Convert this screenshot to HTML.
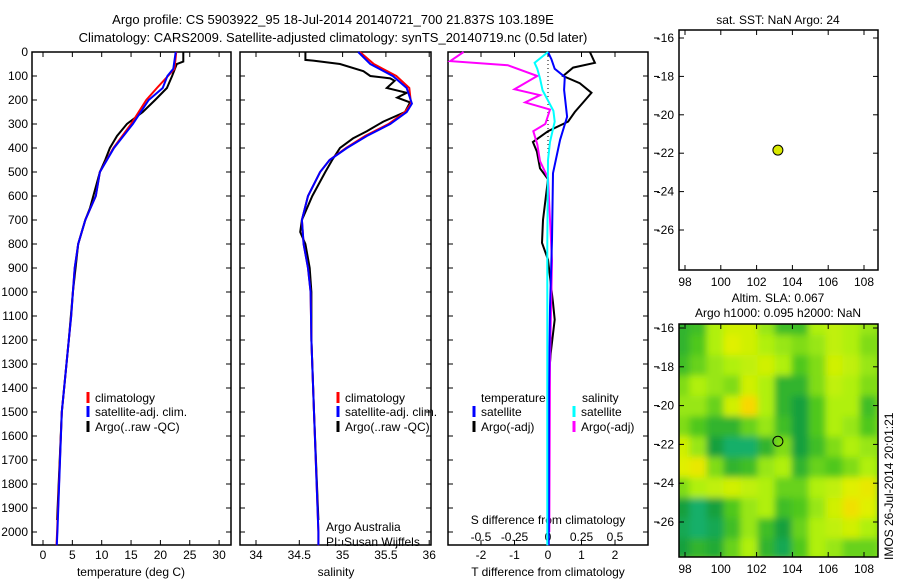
<!DOCTYPE html>
<html><head><meta charset="utf-8">
<style>
html,body{margin:0;padding:0;background:#fff;}
svg{display:block;font-family:"Liberation Sans",sans-serif;}
text{font-size:12px;fill:#000;}
</style></head>
<body>
<svg id="s" width="900" height="580" viewBox="0 0 900 580" xmlns="http://www.w3.org/2000/svg">
<defs><filter id="blur" x="0" y="0" width="1" height="1"><feGaussianBlur stdDeviation="3.5"/></filter>
<clipPath id="mapclip"><rect x="679" y="324" width="199" height="233"/></clipPath></defs>
<text x="333" y="24" text-anchor="middle" style="font-size:13px">Argo profile: CS 5903922_95 18-Jul-2014 20140721_700 21.837S 103.189E</text>
<text x="333" y="42" text-anchor="middle" style="font-size:13px">Climatology: CARS2009. Satellite-adjusted climatology: synTS_20140719.nc (0.5d later)</text>
<text x="778" y="24" text-anchor="middle">sat. SST: NaN Argo: 24</text>
<text x="778" y="302" text-anchor="middle">Altim. SLA: 0.067</text>
<text x="778" y="317" text-anchor="middle">Argo h1000: 0.095 h2000: NaN</text>
<text transform="translate(893,560) rotate(-90)">IMOS 26-Jul-2014 20:01:21</text>
<g id="g"></g>
</svg>
<script>
// ---- profile data ----
const depthTicks=[0,100,200,300,400,500,600,700,800,900,1000,1100,1200,1300,1400,1500,1600,1700,1800,1900,2000];
const tempTicks=[0,5,10,15,20,25,30];
const salTicks=[34,34.5,35,35.5,36];
const salTickLabels=["34","34.5","35","35.5","36"];
const tdTicks=[-2,-1,0,1,2];
const sdTickLabels=["-0.5","-0.25","0","0.25","0.5"];

const climTDepth=[0,70,100,150,200,300,400,500,600,700,800,900,1000,1100,1200,1500,2000,2055];
const climTRed=[22.7,22.4,21.3,19.4,17.6,15.0,12.0,9.7,9.0,7.2,6.0,5.4,5.1,4.8,4.4,3.2,2.4,2.3];
const climTBlue=[22.6,22.2,21.2,20.4,18.0,15.3,12.1,9.7,9.0,7.2,6.0,5.4,5.1,4.8,4.4,3.2,2.45,2.35];
const argoTDepth=[0,40,50,100,150,200,250,300,350,400,450,500,650,700,800,1000,1200,1500,1950];
const argoT=[23.9,23.9,22.8,22.0,21.1,19.1,17.0,14.3,12.6,11.4,10.6,9.7,8.0,7.2,6.0,5.1,4.4,3.2,2.4];

const climSDepth=[0,50,100,150,215,250,300,350,400,450,500,600,700,800,900,1000,1200,1500,2000,2055];
const climSBlue=[35.18,35.32,35.58,35.74,35.8,35.74,35.55,35.28,35.05,34.85,34.74,34.6,34.53,34.55,34.6,34.63,34.64,34.67,34.72,34.72];
const climSRed=[35.2,35.36,35.62,35.77,35.79,35.72,35.53,35.26,35.04,34.85,34.74,34.6,34.53,34.55,34.6,34.63,34.64,34.67,34.72,34.72];
const argoSDepth=[0,33,36,50,80,100,110,120,150,170,190,210,250,290,330,360,400,450,500,600,700,750,800,900,1000,1200,1500,1950];
const argoS=[34.57,34.57,34.66,34.97,35.24,35.32,35.55,35.6,35.51,35.74,35.63,35.78,35.72,35.47,35.28,35.12,34.97,34.88,34.8,34.65,34.53,34.51,34.57,34.62,34.64,34.64,34.67,34.72];

const tdSatDepth=[0,30,70,104,158,270,366,505,783,1062,1400,2055];
const tdSat=[0,0.1,0.2,0.5,0.48,0.57,0.36,0.15,0.12,0.06,0.03,0.02];
const tdArgoDepth=[0,45,65,100,130,170,210,250,290,330,375,415,485,530,700,795,865,1045,1115,1255,1310];
const tdArgo=[1.25,1.4,0.75,0.45,0.95,1.3,1.05,0.8,0.6,0,-0.45,-0.33,-0.24,0,-0.15,-0.18,0,0.15,0.2,0.08,0.05];
const sdSatDepth=[0,45,70,110,160,245,290,375,450,800,2055];
const sdSat=[0,-0.1,-0.08,-0.06,-0.04,0.04,0.05,0.015,0,-0.005,-0.005];
const sdArgoDepth=[0,38,55,100,155,180,210,240,300,330,385,455,525,870,1300,2000];
const sdArgo=[-0.63,-0.73,-0.3,-0.08,-0.25,-0.06,-0.17,0.015,-0.02,-0.11,-0.08,-0.06,0,0.03,0.015,0.01];

// ---- map data ----
const latTicks=[-16,-18,-20,-22,-24,-26];
const lonTicks=[98,100,102,104,106,108];
const floatLon=103.19, floatLat=-21.84;
const slaGrid=[
[0.3,0.35,0.6,0.7,0.7,0.55,0.35,0.35,0.6,0.65,0.6,0.55],
[0.3,0.4,0.6,0.75,0.7,0.6,0.55,0.5,0.55,0.65,0.6,0.5],
[0.35,0.45,0.55,0.6,0.65,0.7,0.6,0.4,0.5,0.7,0.65,0.55],
[0.5,0.6,0.55,0.5,0.7,0.6,0.3,0.3,0.5,0.65,0.6,0.5],
[0.55,0.55,0.45,0.7,0.9,0.6,0.3,0.2,0.4,0.6,0.6,0.35],
[0.5,0.4,0.3,0.3,0.45,0.55,0.35,0.2,0.4,0.6,0.55,0.4],
[0.7,0.55,0.2,0.1,0.1,0.3,0.5,0.2,0.35,0.5,0.6,0.55],
[0.75,0.8,0.5,0.3,0.35,0.55,0.6,0.3,0.45,0.4,0.5,0.6],
[0.5,0.6,0.65,0.7,0.65,0.6,0.45,0.45,0.6,0.65,0.75,0.8],
[0.2,0.1,0.2,0.4,0.55,0.6,0.35,0.4,0.55,0.7,0.85,0.75],
[0.15,0.1,0.15,0.35,0.55,0.35,0.2,0.45,0.6,0.65,0.7,0.6],
[0.2,0.3,0.25,0.45,0.6,0.3,0.15,0.4,0.6,0.55,0.45,0.45]];

const NS="http://www.w3.org/2000/svg";
const G=document.getElementById('g');
function mk(tag,at,parent){const e=document.createElementNS(NS,tag);for(const k in at)e.setAttribute(k,at[k]);(parent||G).appendChild(e);return e;}
function txt(x,y,s,anchor){const t=mk('text',{x:x,y:y,'text-anchor':anchor||'start'});t.textContent=s;return t;}

const PT=52,PB=545;
const yD=d=>52+d*0.24;
const xT=v=>43+v*5.87;
const xS=v=>256+(v-34)*86.6;
const xTD=v=>548+v*33.5;
const xSD=v=>548+v*134;
const panels=[{x0:32,x1:231,n:'temperature-panel'},{x0:240,x1:431,n:'salinity-panel'},{x0:448,x1:648,n:'difference-panel'}];

panels.forEach(p=>{
  const r=mk('rect',{x:p.x0,y:PT,width:p.x1-p.x0,height:PB-PT,fill:'none',stroke:'#000','stroke-width':1.5});
  
  
  depthTicks.forEach(d=>{
    mk('line',{x1:p.x0,x2:p.x0+5,y1:yD(d),y2:yD(d),stroke:'#000'});
    mk('line',{x1:p.x1-5,x2:p.x1,y1:yD(d),y2:yD(d),stroke:'#000'});
  });
});
depthTicks.forEach(d=>{const t=txt(28,yD(d)+4,String(d),'end');
  
  });

function xaxis(ticks,labels,fx,y,top,bottom){
  ticks.forEach((v,i)=>{const x=fx(v);
    mk('line',{x1:x,x2:x,y1:top,y2:top+5,stroke:'#000'});
    mk('line',{x1:x,x2:x,y1:bottom-5,y2:bottom,stroke:'#000'});
    const t=txt(x,y,labels[i],'middle');
    
    });
}
xaxis(tempTicks,tempTicks.map(String),xT,559,PT,PB);
xaxis(salTicks,salTickLabels,xS,559,PT,PB);
xaxis(tdTicks,tdTicks.map(String),xTD,559,PT,PB);
tdTicks.forEach((v,i)=>{const t=txt(xTD(v),541,sdTickLabels[i],'middle');
  
  });
[[131,'temperature (deg C)','temperature-axis-title'],[336,'salinity','salinity-axis-title'],[548,'T difference from climatology','t-diff-axis-title']].forEach(a=>{
  const t=txt(a[0],576,a[1],'middle');
  
  });
{const t=txt(548,524,'S difference from climatology','middle');
 
 }

function line(depths,vals,fx,color,w,name){
  const pts=depths.map((d,i)=>fx(vals[i]).toFixed(1)+','+yD(d).toFixed(1)).join(' ');
  const l=mk('polyline',{points:pts,fill:'none',stroke:color,'stroke-width':w,'stroke-linejoin':'miter'});
  
  
}
mk('line',{x1:548,x2:548,y1:PT,y2:yD(450),stroke:'#000','stroke-dasharray':'1,3'});

line(argoTDepth,argoT,xT,'#000',2,'temp-argo-line');
line(climTDepth,climTRed,xT,'#f00',2,'temp-climatology-line');
line(climTDepth,climTBlue,xT,'#00f',2,'temp-satellite-clim-line');
line(argoSDepth,argoS,xS,'#000',2,'sal-argo-line');
line(climSDepth,climSRed,xS,'#f00',2,'sal-climatology-line');
line(climSDepth,climSBlue,xS,'#00f',2,'sal-satellite-clim-line');
line(tdArgoDepth,tdArgo,xTD,'#000',2,'tdiff-argo-line');
line(sdArgoDepth,sdArgo,xSD,'#f0f',2,'sdiff-argo-line');
line(tdSatDepth,tdSat,xTD,'#00f',2,'tdiff-satellite-line');
line(sdSatDepth,sdSat,xSD,'#0ff',2,'sdiff-satellite-line');

function legend(x,y,color,label){
  mk('line',{x1:x,x2:x,y1:y-10,y2:y+1,stroke:color,'stroke-width':3});
  const t=txt(x+7,y,label);
  
  
}
legend(88,402,'#f00','climatology');legend(88,416,'#00f','satellite-adj. clim.');legend(88,431,'#000','Argo(..raw -QC)');
legend(338,402,'#f00','climatology');legend(338,416,'#00f','satellite-adj. clim.');legend(338,431,'#000','Argo(..raw -QC)');
{const t=txt(481,402,'temperature');}
{const t=txt(582,402,'salinity');}
legend(474,416,'#00f','satellite');legend(474,431,'#000','Argo(-adj)');
legend(574,416,'#0ff','satellite');legend(574,431,'#f0f','Argo(-adj)');
{const t=txt(326,531,'Argo Australia');}
{const t=txt(326,546,'PI: Susan Wijffels');}

// ---- maps ----
const mx=lon=>685+(lon-98)*17.9;
function mapAxes(top,bottom,y16,ppd,name){
  const my=lat=>y16+(-16-lat)*ppd;
  const f=mk('rect',{x:679,y:top,width:199,height:bottom-top,fill:'none',stroke:'#000','stroke-width':1.5});
  
  
  latTicks.forEach(l=>{const y=my(l);
    mk('line',{x1:654,x2:659,y1:y,y2:y,stroke:'#000'});
    mk('line',{x1:679,x2:684,y1:y,y2:y,stroke:'#000'});
    mk('line',{x1:873,x2:878,y1:y,y2:y,stroke:'#000'});
    const t=txt(674,y+4,String(l),'end');
    
    });
  lonTicks.forEach(l=>{const x=mx(l);
    mk('line',{x1:x,x2:x,y1:top,y2:top+5,stroke:'#000'});
    mk('line',{x1:x,x2:x,y1:bottom-5,y2:bottom,stroke:'#000'});
    const t=txt(x,bottom+16,String(l),'middle');
    
    });
  return my;
}
function color(v){
  const stops=[[0,[20,190,150]],[0.2,[20,160,60]],[0.4,[80,200,30]],[0.6,[176,240,16]],[0.75,[224,240,0]],[0.9,[248,216,0]],[1,[248,176,0]]];
  for(let i=1;i<stops.length;i++){if(v<=stops[i][0]){const a=stops[i-1],b=stops[i],t=(v-a[0])/(b[0]-a[0]);
    return 'rgb('+a[1].map((c,k)=>Math.round(c+(b[1][k]-c)*t)).join(',')+')';}}
  return 'rgb(248,176,0)';
}
const hm=mk('g',{'clip-path':'url(#mapclip)'});
const hmInner=mk('g',{filter:'url(#blur)'},hm);
const my2=lat=>328+(-16-lat)*19.4;
mk('rect',{x:660,y:300,width:240,height:280,fill:color(0.5)},hmInner);
slaGrid.forEach((row,r)=>row.forEach((v,c)=>{
  const lon0=97.3+c*0.95, lat0=-15.3-r*1.05;
  const x=mx(lon0),y=my2(lat0);
  const cell=mk('rect',{x:x.toFixed(1),y:y.toFixed(1),width:(0.95*17.9+0.5).toFixed(1),height:(1.05*19.4+0.5).toFixed(1),fill:color(v)},hmInner);
  
  
}));
const my1=mapAxes(30,270,38,19.2,'sst-map');
mapAxes(324,557,328,19.4,'sla-map');
const d1=mk('circle',{cx:mx(floatLon),cy:my1(floatLat),r:5,fill:'#d8e800',stroke:'#000','stroke-width':1});


const d2=mk('circle',{cx:mx(floatLon),cy:my2(floatLat),r:5,fill:'none',stroke:'#000','stroke-width':1});


</script>
</body></html>
